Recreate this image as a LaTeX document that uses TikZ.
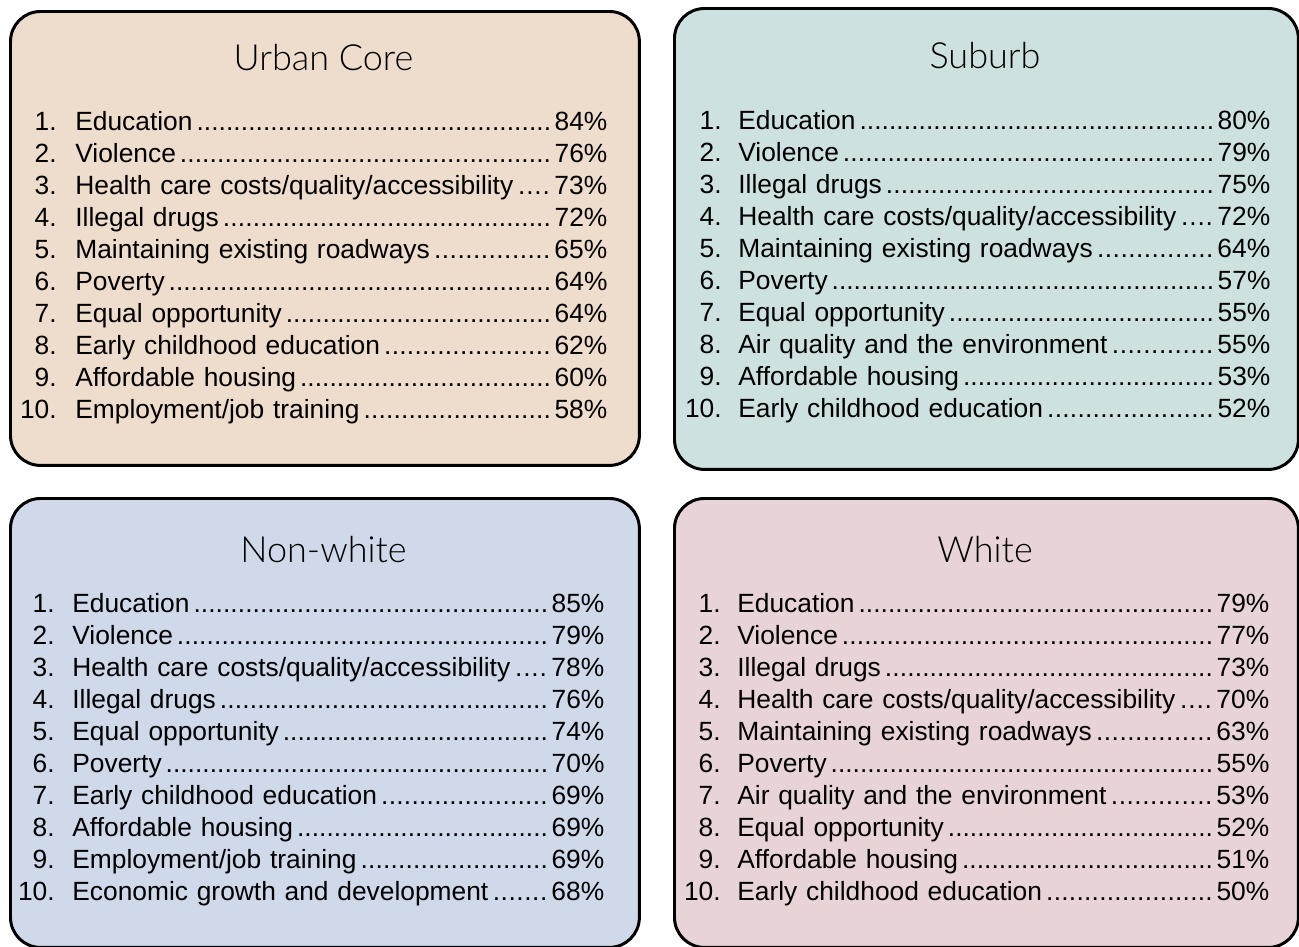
\documentclass[tikz,border=0pt]{standalone}
\usepackage{fontspec}
\setmainfont{Liberation Sans}
\newfontfamily\headfont{Lato Light}
\usepackage{xcolor}
\usetikzlibrary{positioning}

\definecolor{urbanfill}{RGB}{238,220,205}
\definecolor{suburbfill}{RGB}{205,225,224}
\definecolor{nonwhitefill}{RGB}{207,217,234}
\definecolor{whitefill}{RGB}{232,211,214}

% dot leader between label and percentage
\newcommand\dotlead{\hspace{0.15em}\xleaders\hbox to 0.278em{\hss.\hss}\hfill\kern2pt}

\tikzset{
  panel/.style={draw=black, line width=1.7pt, rounded corners=0.6cm, inner sep=0pt, anchor=north west},
  heading/.style={anchor=base, inner sep=0pt, font=\headfont\fontsize{20.5}{24}\selectfont},
  rank/.style={anchor=base east, inner sep=0pt, font=\fontsize{15}{18}\selectfont},
  entry/.style={anchor=base west, inner sep=0pt, text width=10.64cm, font=\fontsize{15}{18}\selectfont}
}

\begin{document}
\begin{tikzpicture}[x=0.02cm,y=-0.02cm]
  \useasboundingbox (0,0) rectangle (1299,947);

  % the four panels
  \node[panel, fill=urbanfill, minimum width=12.58cm, minimum height=9.08cm] (uc) at (9,10) {};
  \node[panel, fill=suburbfill, minimum width=12.48cm, minimum height=9.22cm] (sb) at (673,7) {};
  \node[panel, fill=nonwhitefill, minimum width=12.58cm, minimum height=8.98cm] (nw) at (9,497) {};
  \node[panel, fill=whitefill, minimum width=12.48cm, minimum height=8.98cm] (wh) at (673,497) {};

  \node[heading] (uc-title) at (323.5,70) {Urban Core};
  \node[heading] (sb-title) at (985,68) {Suburb};
  \node[heading] (nw-title) at (323.5,562) {Non-white};
  \node[heading] (wh-title) at (985,562) {White};

  % Urban Core
  \foreach \lbl/\pct [count=\i] in {Education/84, Violence/76,
      {Health care costs/quality/accessibility}/73, Illegal drugs/72,
      Maintaining existing roadways/65, Poverty/64, Equal opportunity/64,
      Early childhood education/62, Affordable housing/60,
      {Employment/job training}/58}{
    \node[rank] (uc-n\i) at (57,{130+32*(\i-1)}) {\i.};
    \node[entry] (uc-e\i) at (75,{130+32*(\i-1)}) {\lbl\dotlead\pct\%};
  }

  % Suburb
  \foreach \lbl/\pct [count=\i] in {Education/80, Violence/79, Illegal drugs/75,
      {Health care costs/quality/accessibility}/72,
      Maintaining existing roadways/64, Poverty/57, Equal opportunity/55,
      Air quality and the environment/55, Affordable housing/53,
      Early childhood education/52}{
    \node[rank] (sb-n\i) at (722,{129+32*(\i-1)}) {\i.};
    \node[entry] (sb-e\i) at (738,{129+32*(\i-1)}) {\lbl\dotlead\pct\%};
  }

  % Non-white
  \foreach \lbl/\pct [count=\i] in {Education/85, Violence/79,
      {Health care costs/quality/accessibility}/78, Illegal drugs/76,
      Equal opportunity/74, Poverty/70, Early childhood education/69,
      Affordable housing/69, {Employment/job training}/69,
      Economic growth and development/68}{
    \node[rank] (nw-n\i) at (55,{612+32*(\i-1)}) {\i.};
    \node[entry] (nw-e\i) at (72,{612+32*(\i-1)}) {\lbl\dotlead\pct\%};
  }

  % White
  \foreach \lbl/\pct [count=\i] in {Education/79, Violence/77, Illegal drugs/73,
      {Health care costs/quality/accessibility}/70,
      Maintaining existing roadways/63, Poverty/55,
      Air quality and the environment/53, Equal opportunity/52,
      Affordable housing/51, Early childhood education/50}{
    \node[rank] (wh-n\i) at (721,{612+32*(\i-1)}) {\i.};
    \node[entry] (wh-e\i) at (737,{612+32*(\i-1)}) {\lbl\dotlead\pct\%};
  }
\end{tikzpicture}
\end{document}
